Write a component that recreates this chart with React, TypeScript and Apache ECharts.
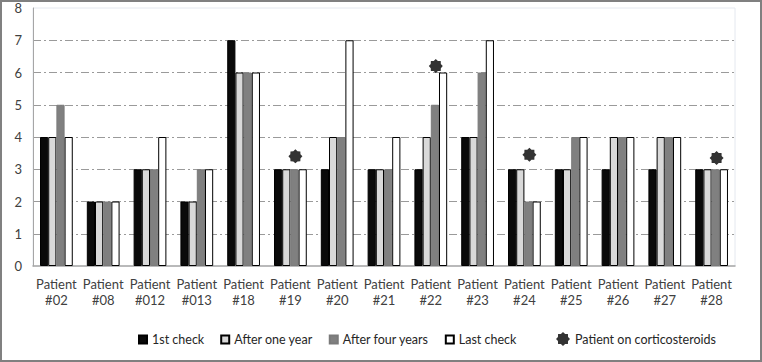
import React, { useEffect, useRef } from "react";
import * as echarts from "echarts";

const categories = ["#02", "#08", "#012", "#013", "#18", "#19", "#20", "#21", "#22", "#23", "#24", "#25", "#26", "#27", "#28"].map((c) => "Patient\n" + c);
const firstCheck = [4, 2, 3, 2, 7, 3, 3, 3, 3, 4, 3, 3, 3, 3, 3];
const afterOneYear = [4, 2, 3, 2, 6, 3, 4, 3, 4, 4, 3, 3, 4, 4, 3];
const afterFourYears = [5, 2, 3, 3, 6, 3, 4, 3, 5, 6, 2, 4, 4, 4, 3];
const lastCheck = [4, 2, 4, 3, 6, 3, 7, 4, 6, 7, 2, 4, 4, 4, 3];
const steroidPatients = ["#19", "#22", "#24", "#28"].map((c) => "Patient\n" + c);
const steroidMarkY = [3.4, 6.2, 3.45, 3.35];
const yTicks = [0, 8, 1];

function starPath(points: number, inner: number): string {
  const pts: string[] = [];
  for (let i = 0; i < points * 2; i++) {
    const r = i % 2 === 0 ? 10 : 10 * inner;
    const a = (Math.PI * i) / points - Math.PI / 2;
    pts.push(`${(10 + r * Math.cos(a)).toFixed(2)} ${(10 + r * Math.sin(a)).toFixed(2)}`);
  }
  return "path://M" + pts.join(" L") + " Z";
}

export default function App() {
  const ref = useRef<HTMLDivElement>(null);
  useEffect(() => {
    document.body.style.margin = "0";
    const chart = echarts.init(ref.current!, null, { renderer: "svg" });
    const star = starPath(8, 0.78);
    const font = "Lato";
    const barBase = { type: "bar" as const, barGap: "0%", barCategoryGap: "30%" };
    chart.setOption({
      animation: false,
      textStyle: { fontFamily: font },
      graphic: [
        {
          type: "rect",
          shape: { x: 1, y: 1, width: 760, height: 360 },
          style: { fill: "none", stroke: "#808080", lineWidth: 2 },
          silent: true,
        },
      ],
      grid: { left: 33, right: 27, top: 8, bottom: 96, show: true, borderColor: "#e4e8ef", borderWidth: 1 },
      xAxis: {
        type: "category",
        data: categories,
        axisTick: { show: false },
        axisLine: { lineStyle: { color: "#a6a6a6", width: 1.5 } },
        axisLabel: { color: "#404040", fontSize: 13, fontFamily: font, lineHeight: 16, margin: 10, interval: 0 },
      },
      yAxis: {
        type: "value",
        min: yTicks[0],
        max: yTicks[1],
        interval: yTicks[2],
        axisLine: { show: true, lineStyle: { color: "#a6a6a6", width: 1 } },
        axisTick: { show: false },
        axisLabel: { color: "#404040", fontSize: 13, fontFamily: font, margin: 11 },
        splitLine: {
          lineStyle: {
            color: ["transparent", "#9a9a9a", "#9a9a9a", "#9a9a9a", "#9a9a9a", "#9a9a9a", "#9a9a9a", "#9a9a9a", "transparent"],
            type: [8, 3, 2, 3],
            width: 1,
          },
        },
      },
      legend: [
        {
          data: ["1st check", "After one year", "After four years", "Last check"],
          left: 133,
          top: 328,
          itemWidth: 8,
          itemHeight: 8,
          itemGap: 16,
          textStyle: { color: "#262626", fontSize: 12.5, fontFamily: font },
          icon: "rect",
        },
        {
          data: ["Patient on corticosteroids"],
          left: 551,
          top: 327,
          itemWidth: 14,
          itemHeight: 14,
          textStyle: { color: "#262626", fontSize: 12.5, fontFamily: font },
        },
      ],
      series: [
        { ...barBase, name: "1st check", data: firstCheck, itemStyle: { color: "#0a0a0a", borderColor: "#000", borderWidth: 1 } },
        { ...barBase, name: "After one year", data: afterOneYear, itemStyle: { color: "#d9d9d9", borderColor: "#000", borderWidth: 1 } },
        { ...barBase, name: "After four years", data: afterFourYears, itemStyle: { color: "#808080", borderColor: "#7a7a7a", borderWidth: 1 } },
        { ...barBase, name: "Last check", data: lastCheck, itemStyle: { color: "#ffffff", borderColor: "#000", borderWidth: 1 } },
        {
          type: "scatter",
          name: "Patient on corticosteroids",
          symbol: star,
          symbolSize: 14,
          symbolOffset: [5, 0],
          itemStyle: { color: "#000" },
          data: steroidPatients.map((c, i) => [c, steroidMarkY[i]]),
          z: 5,
        },
      ],
    });
    return () => chart.dispose();
  }, []);
  return <div ref={ref} style={{ width: 762, height: 362 }} />;
}
